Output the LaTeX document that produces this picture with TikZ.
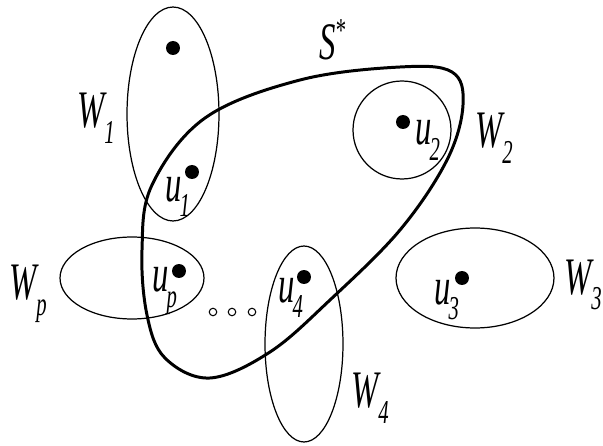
\documentclass[tikz,border=0pt]{standalone}
\usepackage{fontspec}
\usepackage{graphicx}
\setmainfont{Liberation Serif}
\usetikzlibrary{shapes.geometric}
\newcommand{\lab}[2]{\scalebox{0.62}[1]{\fontsize{30}{32}\selectfont\textit{#1}\kern-0.08em\raisebox{-0.3em}{\fontsize{19}{20}\selectfont\textit{#2}}}}
\tikzset{
  set/.style={ellipse,draw=black,line width=0.7pt,inner sep=0pt},
  dot/.style={circle,fill=black,inner sep=0pt,minimum size=0.28cm},
  small/.style={circle,draw=black,line width=0.6pt,inner sep=0pt,minimum size=0.15cm},
  txt/.style={inner sep=0pt}
}
\begin{document}
\begin{tikzpicture}[x=0.02cm,y=-0.02cm]
\useasboundingbox (0,0) rectangle (603,446);
% the sets
\node[set,minimum width=1.84cm,minimum height=4.28cm] (W1) at (173,114) {};
\node[set,circle,minimum size=1.96cm] (W2) at (402,130) {};
\node[set,minimum width=2.88cm,minimum height=1.64cm] (Wp) at (132,278) {};
\node[set,minimum width=1.56cm,minimum height=3.92cm] (W4) at (304,344) {};
\node[set,minimum width=3.16cm,minimum height=2.0cm] (W3) at (475,278) {};
% the points
\node[dot] (a) at (173,48) {};
\node[dot] (u1) at (192,172) {};
\node[dot] (u2) at (403,122) {};
\node[dot] (up) at (179,271) {};
\node[dot] (u4) at (304,277) {};
\node[dot] (u3) at (462,278) {};
\foreach \x/\n in {213/d1,232/d2,252/d3}
  \node[small] (\n) at (\x,312) {};
% the set S*
\draw[line width=1.7pt] plot[smooth cycle,tension=0.6] coordinates
  {(142,250) (152,185) (205,118) (300,80) (400,67) (452,72) (463,105) (447,160)
   (400,230) (330,300) (270,352) (210,378) (165,358) (147,315)};
% labels
\node[txt] (lW1) at (96,118) {\lab{W}{1}};
\node[txt] (lu1) at (178,197) {\lab{u}{1}};
\node[txt] (lW2) at (494,138) {\lab{W}{2}};
\node[txt] (lu2) at (428,140) {\lab{u}{2}};
\node[txt] (lS) at (333,40) {\scalebox{0.62}[1]{\fontsize{30}{32}\selectfont\textit{S}\raisebox{0.35em}{\fontsize{19}{20}\selectfont *}}};
\node[txt] (lWp) at (28,294) {\lab{W}{p}};
\node[txt] (lup) at (165,291) {\lab{u}{p}};
\node[txt] (lu4) at (291,298) {\lab{u}{4}};
\node[txt] (lW3) at (583,285) {\lab{W}{3}};
\node[txt] (lu3) at (447,300) {\lab{u}{3}};
\node[txt] (lW4) at (370,398) {\lab{W}{4}};
\end{tikzpicture}
\end{document}
